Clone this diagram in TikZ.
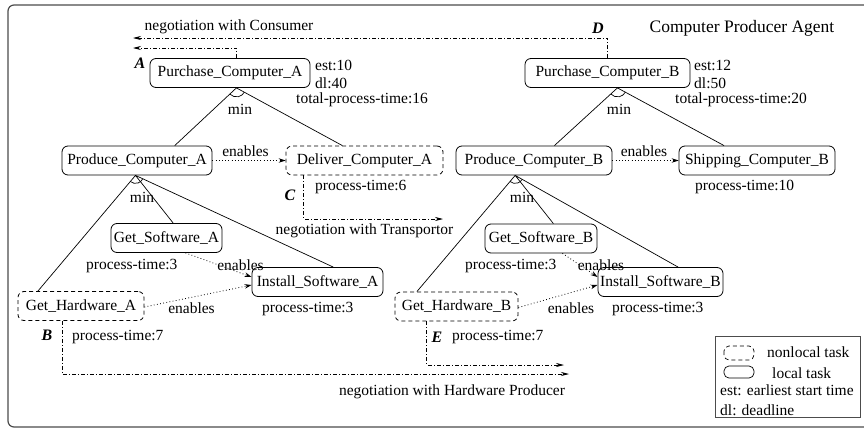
\documentclass[tikz,border=0pt]{standalone}
\usepackage{fontspec}
\setmainfont{Liberation Serif}
\usetikzlibrary{arrows.meta,calc}
\begin{document}
\begin{tikzpicture}[x=1pt,y=-1pt,
 every node/.style={font=\fontsize{15.5}{18}\selectfont},
 task/.style={draw, rounded corners=6pt, line width=0.8pt, minimum height=29pt, inner sep=0pt},
 nonlocal/.style={task, dash pattern=on 4pt off 3pt},
 lbl/.style={inner sep=0pt, yshift=-2pt},
 tag/.style={inner sep=0pt, font=\fontsize{16}{18}\selectfont\bfseries\itshape},
 tree/.style={line width=0.7pt},
 enab/.style={line width=0.8pt, dash pattern=on 0.8pt off 2.4pt, -{Stealth[length=7pt,width=4.5pt]}},
 nego/.style={line width=0.7pt, dash pattern=on 4pt off 2pt on 1pt off 2pt, -{Stealth[length=8pt,width=4pt]}},
 frame/.style={draw=black!70, line width=1.2pt},
]
\useasboundingbox (0,0) rectangle (864,431);
\clip (0,0) rectangle (864,431);
\draw[frame, rounded corners=6pt] (8,5) rectangle (880,427);

% tasks
\node[task, minimum width=160pt] (PCA) at (230,73) {Purchase\_Computer\_A};
\node[task, minimum width=165pt] (PCB) at (607.5,73) {Purchase\_Computer\_B};
\node[task, minimum width=150pt] (PrCA) at (137,160.5) {Produce\_Computer\_A};
\node[nonlocal, minimum width=157pt] (DCA) at (364.5,160.5) {Deliver\_Computer\_A};
\node[task, minimum width=156pt] (PrCB) at (534,160.5) {Produce\_Computer\_B};
\node[task, minimum width=156pt] (SCB) at (757,160.5) {Shipping\_Computer\_B};
\node[task, minimum width=111pt] (GSA) at (166.5,238) {Get\_Software\_A};
\node[task, minimum width=131pt] (ISA) at (317.5,282) {Install\_Software\_A};
\node[nonlocal, minimum width=126pt] (GHA) at (81,306) {Get\_Hardware\_A};
\node[task, minimum width=112pt] (GSB) at (541,238.5) {Get\_Software\_B};
\node[task, minimum width=125pt] (ISB) at (660.5,282) {Install\_Software\_B};
\node[nonlocal, minimum width=123pt] (GHB) at (456.5,306.5) {Get\_Hardware\_B};

% tree vertices and targets
\coordinate (vPCA) at ($(PCA.south west)!0.54!(PCA.south east)$);
\coordinate (vPCB) at ($(PCB.south west)!0.56!(PCB.south east)$);
\coordinate (vPrCA) at ($(PrCA.south west)!0.49!(PrCA.south east)$);
\coordinate (vPrCB) at ($(PrCB.south west)!0.38!(PrCB.south east)$);
\coordinate (tPrCA) at ($(PrCA.north west)!0.75!(PrCA.north east)$);
\coordinate (tDCA) at ($(DCA.north west)!0.36!(DCA.north east)$);
\coordinate (tPrCB) at ($(PrCB.north west)!0.63!(PrCB.north east)$);
\coordinate (tSCB) at ($(SCB.north west)!0.29!(SCB.north east)$);
\coordinate (tGHA) at ($(GHA.north west)!0.16!(GHA.north east)$);
\coordinate (tGSA) at ($(GSA.north west)!0.56!(GSA.north east)$);
\coordinate (tISA) at ($(ISA.north west)!0.62!(ISA.north east)$);
\coordinate (tGHB) at ($(GHB.north west)!0.18!(GHB.north east)$);
\coordinate (tGSB) at ($(GSB.north west)!0.61!(GSB.north east)$);
\coordinate (tISB) at ($(ISB.north west)!0.64!(ISB.north east)$);

\draw[tree] (tPrCA) -- (vPCA) -- (tDCA);
\draw[tree] (tPrCB) -- (vPCB) -- (tSCB);
\draw[tree] (tGHA) -- (vPrCA) -- (tISA) (vPrCA) -- (tGSA);
\draw[tree] (tGHB) -- (vPrCB) -- (tISB) (vPrCB) -- (tGSB);

% min arcs
\foreach \v/\a/\b/\r in {vPCA/tPrCA/tDCA/9, vPCB/tPrCB/tSCB/9, vPrCA/tGHA/tISA/8, vPrCB/tGHB/tISB/8}{
  \draw[tree] let \p1=($(\a)-(\v)$), \p2=($(\b)-(\v)$), \n1={atan2(\y1,\x1)}, \n2={atan2(\y2,\x2)} in
    ($(\v)!\r pt!(\a)$) arc[start angle=\n1, end angle=\n2, radius=\r pt];
}
\node[lbl] at (240,107) {min};
\node[lbl] at (619,107) {min};
\node[lbl] at (142,195) {min};
\node[lbl] at (522,195) {min};

% enables
\draw[enab] (PrCA.east) -- (DCA.west);
\draw[enab] (PrCB.east) -- (SCB.west);
\draw[enab] ($(GSA.south west)!0.67!(GSA.south east)$) -- ([yshift=5pt]ISA.west);
\draw[enab] ([yshift=-1pt]GHA.east) -- ([yshift=-3pt]ISA.west);
\draw[enab] ($(GSB.south west)!0.69!(GSB.south east)$) -- ([yshift=5pt]ISB.west);
\draw[enab] ([yshift=-1pt]GHB.east) -- ([yshift=-3pt]ISB.west);
\node[lbl] at (245.5,149) {enables};
\node[lbl] at (644,149) {enables};
\node[lbl] at (240.5,263) {enables};
\node[lbl] at (601,263) {enables};
\node[lbl] at (191.5,306) {enables};
\node[lbl] at (571,306) {enables};

% negotiations
\coordinate (nA) at (133,48);
\coordinate (nD) at (133,38);
\coordinate (nC) at (443,219);
\coordinate (nB) at (569,374);
\coordinate (nE) at (564,365);
\draw[nego] ($(PCA.north west)!0.54!(PCA.north east)$) |- (nA);
\draw[nego] (PCB.north) |- (nD);
\draw[nego] ($(DCA.south west)!0.115!(DCA.south east)$) |- (nC);
\draw[nego] ($(GHA.south west)!0.35!(GHA.south east)$) |- (nB);
\draw[nego] ($(GHB.south west)!0.26!(GHB.south east)$) |- (nE);

\node[lbl] at (229,25) {negotiation with Consumer};
\node[lbl] at (364.5,229) {negotiation with Transportor};
\node[lbl] at (452,390) {negotiation with Hardware Producer};
\node[lbl, font=\fontsize{17.5}{20}\selectfont] at (742,26) {Computer Producer Agent};

\node[tag] at (140,63) {A};
\node[tag] at (598,28) {D};
\node[tag] at (290,195) {C};
\node[tag] at (47,335) {B};
\node[tag] at (437,337) {E};

% attributes
\node[lbl, anchor=west] at (315,63) {est:10};
\node[lbl, anchor=west] at (315,81) {dl:40};
\node[lbl, anchor=west] at (296,98) {total-process-time:16};
\node[lbl, anchor=west] at (694,63) {est:12};
\node[lbl, anchor=west] at (694,81) {dl:50};
\node[lbl, anchor=west] at (675,98) {total-process-time:20};
\node[lbl, anchor=west] at (315,185) {process-time:6};
\node[lbl, anchor=west] at (695,185) {process-time:10};
\node[lbl, anchor=west] at (86,264) {process-time:3};
\node[lbl, anchor=west] at (262,307) {process-time:3};
\node[lbl, anchor=west] at (465,264) {process-time:3};
\node[lbl, anchor=west] at (612,307) {process-time:3};
\node[lbl, anchor=west] at (72,335) {process-time:7};
\node[lbl, anchor=west] at (452,335) {process-time:7};

% legend
\draw[draw=black!70, line width=1pt] (715,336) rectangle (860,417);
\draw[line width=0.7pt, rounded corners=5pt, dash pattern=on 4pt off 3pt] (724,346) rectangle (754,360);
\draw[line width=0.7pt, rounded corners=5pt] (724,366) rectangle (754,378);
\node[lbl, anchor=west] at (767,350) {nonlocal task};
\node[lbl, anchor=west] at (772,371) {local task};
\node[lbl, anchor=west] at (720,388) {est: earliest start time};
\node[lbl, anchor=west] at (720,408) {dl: deadline};
\end{tikzpicture}
\end{document}
